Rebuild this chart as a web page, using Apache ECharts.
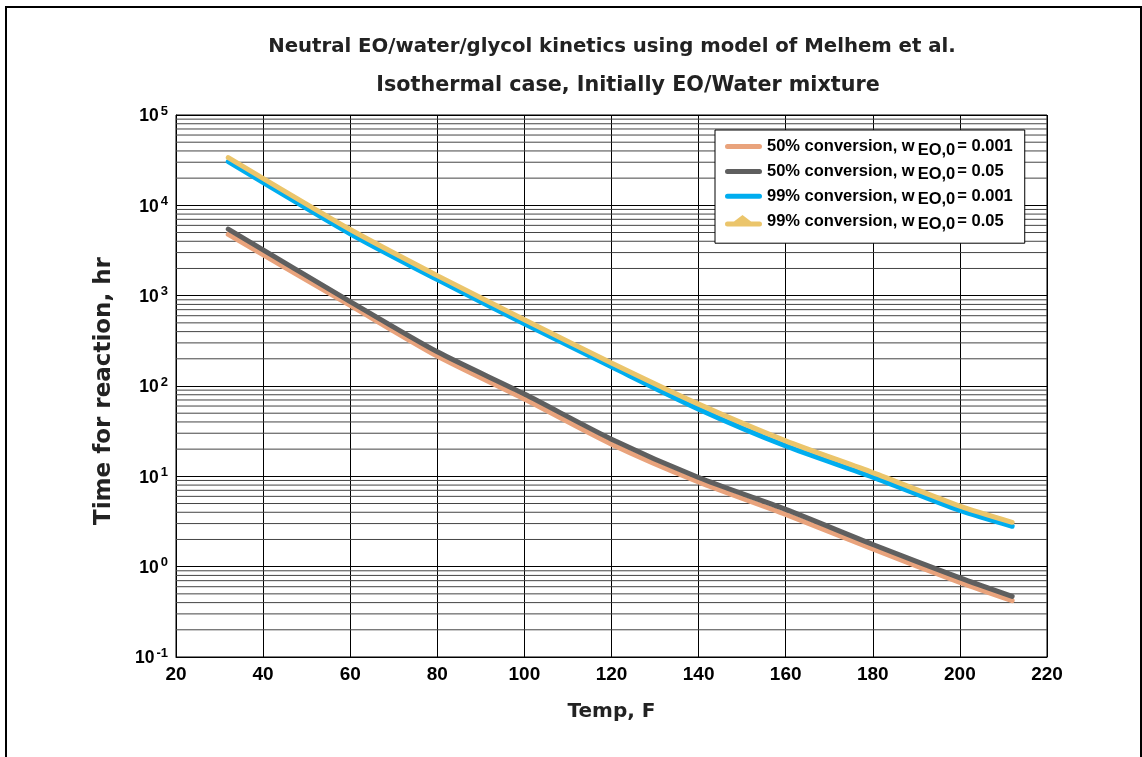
<!DOCTYPE html>
<html><head><meta charset="utf-8">
<script src="https://cdn.jsdelivr.net/npm/echarts@6/dist/echarts.min.js"></script>
<style>html,body{margin:0;padding:0;background:#fff}#c{width:1142px;height:757px}</style>
</head><body><div id="c"></div>
<script>
// ---- data ----
const temps = [32, 60, 80, 100, 120, 140, 160, 180, 200, 212];
const conv50_w001 = [4760, 780, 214, 71.7, 22.7, 8.65, 3.78, 1.57, 0.67, 0.42];
const conv50_w05  = [5460, 860, 239, 81.5, 25.8, 9.7, 4.3, 1.76, 0.75, 0.468];
const conv99_w001 = [30500, 4850, 1506, 489, 163, 55.5, 21.7, 9.8, 4.19, 2.8];
const conv99_w05  = [33800, 5400, 1667, 541, 180, 63, 24.7, 11.0, 4.68, 3.1];
const convLabels = ['50% conversion', '50% conversion', '99% conversion', '99% conversion'];
const wLabels = ['0.001', '0.05', '0.001', '0.05'];
const xMin = 20, xMax = 220, xStep = 20;
const yMin = 0.1, yMax = 100000;
const titleLine1 = 'Neutral EO/water/glycol kinetics using model of Melhem et al.';
const titleLine2 = 'Isothermal case, Initially EO/Water mixture';
const xName = 'Temp, F';
const yName = 'Time for reaction, hr';

const FONT = '"Liberation Sans", Arial, sans-serif';
const WIDE = '"DejaVu Sans", sans-serif';
const colors = ['#E9A37C', '#5F5F5F', '#00ADEF', '#EBC56B'];
const seriesData = [conv50_w001, conv50_w05, conv99_w001, conv99_w05];
const names = convLabels.map((c, i) => c + ', w EO,0 = ' + wLabels[i]);

// legend icons (thick bar; last one with a triangle); corner specks fix the 37x14 box
const specks = 'M0,0 L0.01,0 L0,0.01 Z M37,14 L36.99,14 L37,13.99 Z ';
const barIcon = 'path://' + specks + 'M2.5,4.5 L34.5,4.5 A2.5,2.5 0 0 1 34.5,9.5 L2.5,9.5 A2.5,2.5 0 0 1 2.5,4.5 Z';
const triIcon = 'path://' + specks + 'M2.5,7.2 L9,7.2 L17.5,0.8 L26,7.2 L34.5,7.2 A2.5,2.5 0 0 1 34.5,12.2 L2.5,12.2 A2.5,2.5 0 0 1 2.5,7.2 Z';

// minor log gridline values (2..9 x 10^k)
const minorVals = [];
for (let k = -1; k <= 4; k++) for (let m = 2; m <= 9; m++) minorVals.push(+(m * Math.pow(10, k)).toPrecision(3));

const chart = echarts.init(document.getElementById('c'));
const lineSeries = seriesData.map((arr, i) => ({
  type: 'line',
  name: names[i],
  data: temps.map((t, j) => [t, arr[j]]),
  smooth: 0.25,
  symbol: 'none',
  showSymbol: false,
  lineStyle: { color: colors[i], width: 5, cap: 'round' },
  itemStyle: { color: colors[i] },
  z: 3 + i,
  animation: false
}));

chart.setOption({
  backgroundColor: '#fff',
  animation: false,
  graphic: [{
    type: 'rect', silent: true,
    shape: { x: 6, y: 7, width: 1135, height: 800 },
    style: { fill: 'none', stroke: '#000', lineWidth: 2 }
  }],
  title: [
    { text: titleLine1, left: 607, top: 32, textAlign: 'center',
      textStyle: { fontFamily: WIDE, fontSize: 19.7, fontWeight: 'bold', color: '#222' } },
    { text: titleLine2, left: 623, top: 70, textAlign: 'center',
      textStyle: { fontFamily: WIDE, fontSize: 20.7, fontWeight: 'bold', color: '#222' } }
  ],
  grid: { left: 176, right: 95, top: 115, bottom: 100, show: true, borderColor: '#000', borderWidth: 1 },
  legend: {
    data: names.map((n, i) => ({ name: n, icon: i === 3 ? triIcon : barIcon,
                                 itemStyle: { color: colors[i], borderWidth: 0 } })),
    orient: 'vertical',
    left: 715, top: 130,
    padding: [8, 12, 10, 10],
    itemGap: 4.4,
    itemWidth: 37, itemHeight: 14,
    backgroundColor: '#fff',
    borderColor: '#000', borderWidth: 1,
    formatter: name => {
      const i = names.indexOf(name);
      return '{a|' + convLabels[i] + ', w}{s|EO,0}{a|= ' + wLabels[i] + '}';
    },
    textStyle: {
      rich: {
        a: { fontFamily: FONT, fontSize: 16.5, fontWeight: 'bold', color: '#000', lineHeight: 24, verticalAlign: 'middle' },
        s: { fontFamily: FONT, fontSize: 16.5, fontWeight: 'bold', color: '#000', lineHeight: 10, verticalAlign: 'bottom', padding: [0, 2, 0, 3] }
      }
    }
  },
  xAxis: {
    type: 'value', min: xMin, max: xMax, interval: xStep,
    name: xName, nameLocation: 'middle', nameGap: 45,
    nameTextStyle: { fontFamily: WIDE, fontSize: 20, fontWeight: 'bold', color: '#222' },
    axisLine: { lineStyle: { color: '#000', width: 1 } },
    axisTick: { show: false },
    axisLabel: { fontFamily: FONT, fontSize: 19, fontWeight: 'bold', color: '#000', margin: 8 },
    splitLine: { show: true, lineStyle: { color: '#000', width: 1 } }
  },
  yAxis: {
    type: 'log', logBase: 10, min: yMin, max: yMax,
    name: yName, nameLocation: 'middle', nameGap: 60,
    nameTextStyle: { fontFamily: WIDE, fontSize: 23, fontWeight: 'bold', color: '#222', padding: [0, 10, 0, 0] },
    axisLine: { show: true, lineStyle: { color: '#000', width: 1 } },
    axisTick: { show: false },
    axisLabel: {
      margin: 8,
      formatter: v => '{b|10}{s|' + Math.round(Math.log10(v)) + '}',
      rich: {
        b: { fontFamily: FONT, fontSize: 17.5, fontWeight: 'bold', color: '#000', verticalAlign: 'bottom' },
        s: { fontFamily: FONT, fontSize: 13, fontWeight: 'bold', color: '#000', verticalAlign: 'top', padding: [0, 0, 8, 2] }
      }
    },
    splitLine: { show: true, lineStyle: { color: '#000', width: 1 } }
  },
  series: [{
    type: 'custom',
    name: 'minor',
    silent: true,
    z: 1,
    data: minorVals.map(v => [xMin, v]),
    encode: { x: 0, y: 1 },
    renderItem: (params, api) => {
      const p1 = api.coord([xMin, api.value(1)]);
      const p2 = api.coord([xMax, api.value(1)]);
      return { type: 'line', shape: { x1: p1[0], y1: p1[1], x2: p2[0], y2: p2[1] },
               style: { stroke: '#444', lineWidth: 1 } };
    }
  }].concat(lineSeries)
});
</script></body></html>
